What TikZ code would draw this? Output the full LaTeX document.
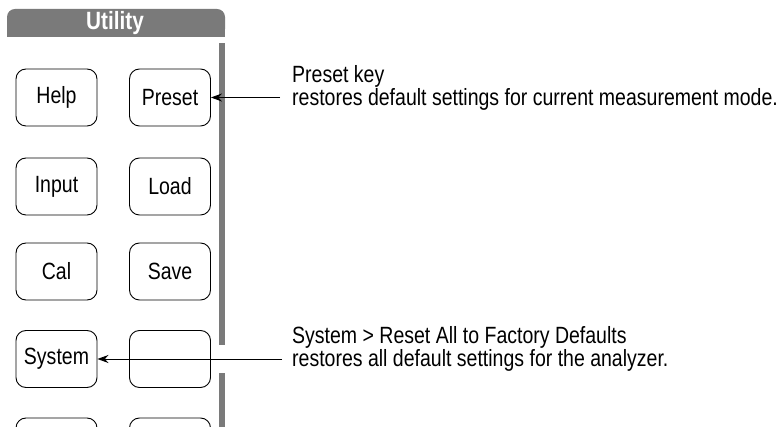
\documentclass[tikz,border=0pt]{standalone}
\usepackage{fontspec}
\setmainfont[FakeStretch=0.83]{Liberation Sans}
\usetikzlibrary{arrows.meta}
\definecolor{barg}{RGB}{122,122,122}
\begin{document}
\begin{tikzpicture}[x=1pt,y=-1pt,
  key/.style={draw=black, line width=0.9pt, rounded corners=10pt, minimum width=81pt, minimum height=57pt, inner sep=0pt, font=\fontsize{23.5}{23}\selectfont},
  note/.style={anchor=base west, align=left, inner sep=0pt, font=\fontsize{23.5}{23}\selectfont},
  callout/.style={-{Stealth[length=11pt,width=8pt]}, line width=0.9pt}]
\useasboundingbox (0,0) rectangle (777,427);
\clip (0,0) rectangle (777,427);
% header
\fill[barg, rounded corners=8pt] (7,9) rectangle (225,37);
\fill[barg] (7,22) rectangle (225,37);
\node[font=\bfseries\fontsize{25}{25}\selectfont, text=white, inner sep=0pt] (title) at (115,23) {Utility};
% side bar
\fill[barg] (219,43) rectangle (224.5,345);
\fill[barg] (219,373) rectangle (224.5,427);
% keys
\node[key] (help)   at (56.5,97.5)  {Help};
\node[key] (preset) at (170,97.5)   {Preset};
\node[key] (input)  at (56.5,186.5) {Input};
\node[key] (load)   at (170,186.5)  {Load};
\node[key] (cal)    at (56.5,271.5) {Cal};
\node[key] (save)   at (170,271.5)  {Save};
\node[key] (system) at (56.5,359)   {System};
\node[key] (blank)  at (170,359)    {};
\node[key] (rowfa)  at (56.5,446.5) {};
\node[key] (rowfb)  at (170,446.5)  {};
% notes
\node[note] (presetnote) at (292,105.5) {Preset key\\restores default settings for current measurement mode.};
\node[note] (systemnote) at (292,366.5) {System > Reset All to Factory Defaults\\restores all default settings for the analyzer.};
\coordinate (pa) at (280,97.5);
\coordinate (sa) at (282,359);
\draw[callout] (pa) -- (preset.east);
\draw[callout] (sa) -- (system.east);
\end{tikzpicture}
\end{document}
